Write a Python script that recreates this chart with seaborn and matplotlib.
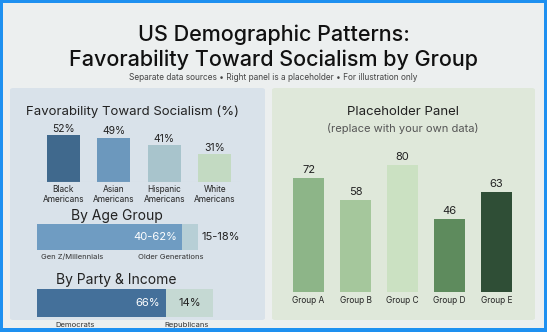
import matplotlib
matplotlib.use("Agg")
import matplotlib.pyplot as plt
from matplotlib.patches import FancyBboxPatch, Rectangle
import seaborn as sns
import pandas as pd

# ---- data (left panel: survey figures from the reference) ----
race_groups = ["Black\nAmericans", "Asian\nAmericans", "Hispanic\nAmericans", "White\nAmericans"]
race_values = [52, 49, 41, 31]
race_colors = ["#40698d", "#6c98bd", "#a8c4cc", "#c3dac2"]

age_groups = ["Gen Z/Millennials", "Older Generations"]
age_values = [62, 7]
age_labels = ["40-62%", "15-18%"]

party_groups = ["Democrats", "Republicans"]
party_values = [66, 24]
party_labels = ["66%", "14%"]

# ---- right panel: neutral placeholder data (replace with your own) ----
placeholder_groups = ["Group A", "Group B", "Group C", "Group D", "Group E"]
placeholder_values = [72, 58, 80, 46, 63]
placeholder_colors = ["#8db588", "#a5c79c", "#cbe1c2", "#5e8b5d", "#2f4e36"]

W, H = 547, 332
sns.set_theme(style="white")
plt.rcParams["font.family"] = ["Inter", "DejaVu Sans"]
fig = plt.figure(figsize=(W / 100, H / 100), dpi=100)
fig.patch.set_facecolor("#1e90f0")


def fx(x):
    return x / W


def fy(y):
    return 1 - y / H


def add_ax(x0, y0, x1, y1):
    a = fig.add_axes([fx(x0), fy(y1), fx(x1) - fx(x0), (y1 - y0) / H])
    a.set_facecolor("none")
    a.set_zorder(5)
    for s in a.spines.values():
        s.set_visible(False)
    return a


# background frame
fig.patches.append(Rectangle((fx(3), fy(328)), fx(541), 325 / H,
                             transform=fig.transFigure, facecolor="#ecefef",
                             edgecolor="none", zorder=-10))
# cards
fig.patches.append(FancyBboxPatch((fx(10), fy(320)), fx(255), 232 / H,
                                  boxstyle="round,pad=0,rounding_size=0.006",
                                  transform=fig.transFigure, facecolor="#d9e2ea",
                                  edgecolor="none", zorder=-9))
fig.patches.append(FancyBboxPatch((fx(272), fy(320)), fx(263), 232 / H,
                                  boxstyle="round,pad=0,rounding_size=0.006",
                                  transform=fig.transFigure, facecolor="#dfe8da",
                                  edgecolor="none", zorder=-9))

# titles
fig.text(0.5, fy(35), "US Demographic Patterns:", ha="center", va="center",
         fontsize=15.5, color="#111111", fontweight="medium")
fig.text(0.5, fy(60), "Favorability Toward Socialism by Group", ha="center", va="center",
         fontsize=15.5, color="#111111", fontweight="medium")
fig.text(0.5, fy(77), "Separate data sources \u2022 Right panel is a placeholder \u2022 For illustration only",
         ha="center", va="center", fontsize=6, color="#444444")

# ---- left: race bars ----
fig.text(fx(133), fy(112), "Favorability Toward Socialism (%)", ha="center", va="center",
         fontsize=9.5, color="#222222")
ax1 = add_ax(38, 135, 240, 182)
df1 = pd.DataFrame({"group": race_groups, "value": race_values})
sns.barplot(data=df1, x="group", y="value", hue="group", palette=race_colors,
            legend=False, width=0.66, saturation=1, linewidth=0, ax=ax1)
ax1.set_ylim(0, 52)
ax1.set_xlabel("")
ax1.set_ylabel("")
ax1.set_yticks([])
ax1.tick_params(axis="x", length=0, labelsize=6, pad=2, colors="#222222")
for p, v in zip(ax1.patches, race_values):
    ax1.text(p.get_x() + p.get_width() / 2, v + 1.5, f"{v}%", ha="center", va="bottom",
             fontsize=7.5, color="#222222", clip_on=False)
ax1.axhline(0, color="#c9d2da", lw=0.8)

# ---- left: age group ----
fig.text(fx(117), fy(216), "By Age Group", ha="center", va="center", fontsize=10,
         color="#222222")
ax2 = add_ax(37, 224, 240, 250)
ax2.barh([0], [age_values[0]], color="#6f9cc2", height=1.0, linewidth=0)
ax2.barh([0], [age_values[1]], left=[age_values[0]], color="#b7cfd6", height=1.0, linewidth=0)
ax2.set_xlim(0, age_values[0] * 203 / 145)
ax2.set_ylim(-0.5, 0.5)
ax2.set_xticks([])
ax2.set_yticks([])
ax2.text(age_values[0] - 2, 0, age_labels[0], ha="right", va="center", fontsize=8,
         color="white")
ax2.text(age_values[0] + age_values[1] + 1.5, 0, age_labels[1], ha="left", va="center",
         fontsize=8, color="#222222")
fig.text(fx(72), fy(257), age_groups[0], ha="center", va="center", fontsize=5.5, color="#333333")
fig.text(fx(171), fy(257), age_groups[1], ha="center", va="center", fontsize=5.5, color="#333333")

# ---- left: party ----
fig.text(fx(116), fy(280), "By Party & Income", ha="center", va="center", fontsize=10,
         color="#222222")
ax3 = add_ax(37, 289, 240, 317)
ax3.barh([0], [party_values[0]], color="#44709a", height=1.0, linewidth=0)
ax3.barh([0], [party_values[1]], left=[party_values[0]], color="#c5d9d3", height=1.0, linewidth=0)
ax3.set_xlim(0, party_values[0] * 203 / 129)
ax3.set_ylim(-0.5, 0.5)
ax3.set_xticks([])
ax3.set_yticks([])
ax3.text(party_values[0] - 3, 0, party_labels[0], ha="right", va="center", fontsize=8,
         color="white")
ax3.text(party_values[0] + party_values[1] / 2, 0, party_labels[1], ha="center",
         va="center", fontsize=8, color="#222222")
fig.text(fx(75), fy(325), party_groups[0], ha="center", va="center", fontsize=5.5, color="#333333")
fig.text(fx(187), fy(325), party_groups[1], ha="center", va="center", fontsize=5.5, color="#333333")

# ---- right: placeholder panel ----
fig.text(fx(403), fy(112), "Placeholder Panel", ha="center", va="center",
         fontsize=9.5, color="#222222")
fig.text(fx(403), fy(129), "(replace with your own data)", ha="center", va="center",
         fontsize=8, color="#555555")
ax4 = add_ax(285, 165, 520, 292)
df4 = pd.DataFrame({"group": placeholder_groups, "value": placeholder_values})
sns.barplot(data=df4, x="group", y="value", hue="group", palette=placeholder_colors,
            legend=False, width=0.64, saturation=1, linewidth=0, ax=ax4)
ax4.set_ylim(0, max(placeholder_values))
ax4.set_xlabel("")
ax4.set_ylabel("")
ax4.set_yticks([])
ax4.tick_params(axis="x", length=0, labelsize=6, pad=3, colors="#222222")
for p, v in zip(ax4.patches, placeholder_values):
    ax4.text(p.get_x() + p.get_width() / 2, v + 2, f"{v}", ha="center", va="bottom",
             fontsize=8, color="#222222", clip_on=False)

fig.savefig("out.png", dpi=100, facecolor=fig.get_facecolor())
